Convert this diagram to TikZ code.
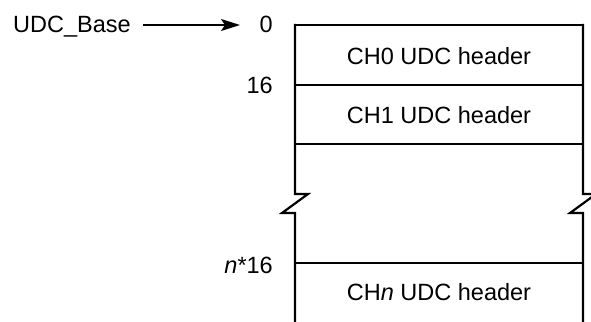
\documentclass[tikz,border=0pt]{standalone}
\usepackage{fontspec}
\setmainfont{Liberation Sans}
\usetikzlibrary{arrows.meta}
\begin{document}
\begin{tikzpicture}[x=1pt,y=-1pt,
  lbl/.style={inner sep=0pt,font=\fontsize{23.5}{27}\selectfont},
  wall/.style={line width=2.2pt,line join=miter}]
\useasboundingbox (0,0) rectangle (591,321);
% labels
\node[lbl,anchor=base west] (base) at (13,33) {UDC\_Base};
\node[lbl,anchor=base east] (zero) at (273,33) {0};
\node[lbl,anchor=base east] (sixteen) at (273,93) {16};
\node[lbl,anchor=base east] (nsixteen) at (273,273) {\textit{n}*16};
% arrow
\coordinate (astart) at (143,25);
\coordinate (aend) at (240,25);
\draw[line width=1.6pt,-{Stealth[length=19pt,width=12pt,inset=4pt]}] (astart) -- (aend);
% horizontal lines
\draw[wall] (295,25) -- (583,25);
\draw[wall] (295,85) -- (583,85);
\draw[wall] (295,144) -- (583,144);
\draw[wall] (295,263) -- (583,263);
% left wall with break
\draw[wall] (295,24) -- (295,194) -- (308,194) -- (282,213) -- (295,213) -- (295,322);
% right wall with break
\draw[wall] (583,24) -- (583,194) -- (596,194) -- (570,213) -- (583,213) -- (583,322);
% cell texts
\node[lbl,anchor=base] (ch0) at (439,64) {CH0 UDC header};
\node[lbl,anchor=base] (ch1) at (439,123) {CH1 UDC header};
\node[lbl,anchor=base] (chn) at (439,300) {CH\textit{n} UDC header};
\end{tikzpicture}
\end{document}
